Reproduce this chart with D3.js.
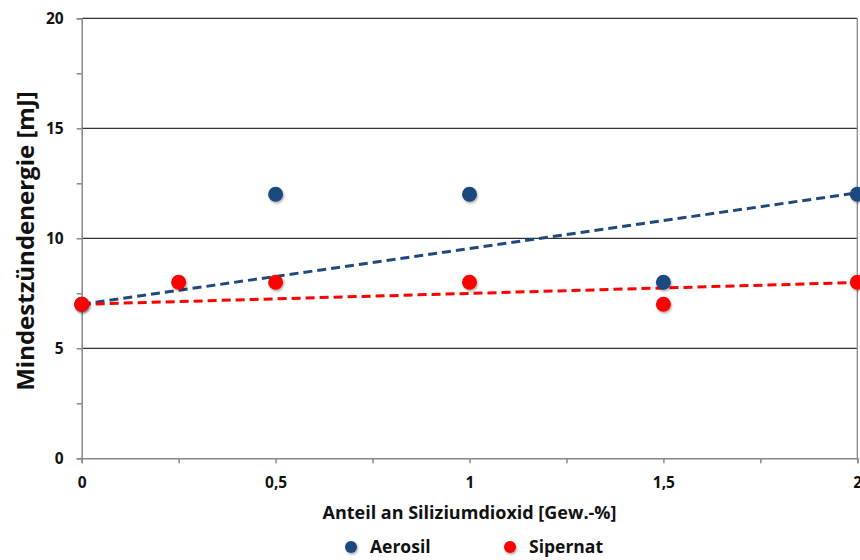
<!DOCTYPE html>
<html><head><meta charset="utf-8">
<script src="https://cdn.jsdelivr.net/npm/d3@7"></script>
<style>body{margin:0;background:#fff;}text{font-family:"Open Sans",sans-serif;font-weight:bold;}</style>
</head><body>
<svg id="c" width="860" height="560"></svg>
<script>
const aerosilX = [0, 0.5, 1, 1.5, 2];
const aerosilY = [7, 12, 12, 8, 12];
const sipernatX = [0, 0.25, 0.5, 1, 1.5, 2];
const sipernatY = [7, 8, 8, 8, 7, 8];
const trendX = [0, 2];
const aerosilTrend = [7, 12.07];
const sipernatTrend = [7, 7.99];
const yTicks = [0, 5, 10, 15, 20];
const yMinor = [2.5, 7.5, 12.5, 17.5];
const xTicks = [0, 0.5, 1, 1.5, 2];
const xMinor = [0.25, 0.75, 1.25, 1.75];
const seriesNames = ["Aerosil", "Sipernat"];
const colors = ["#1F497D", "#FF0000"];

const svg = d3.select("#c");
const L = 81.7, R = 857.3, T = 18.3, B = 458.3;
const x = d3.scaleLinear().domain([0, 2]).range([L, R]);
const y = d3.scaleLinear().domain([0, 20]).range([B, T]);
const fmt = d => String(d).replace(".", ",");

// gridlines
svg.append("g").selectAll("line").data(yTicks.filter(d => d > 0)).join("line")
  .attr("x1", L).attr("x2", R).attr("y1", d => y(d)).attr("y2", d => y(d))
  .attr("stroke", "#333").attr("stroke-width", 1.3);
// right border
svg.append("line").attr("x1", R).attr("x2", R).attr("y1", T).attr("y2", B)
  .attr("stroke", "#888").attr("stroke-width", 1.3);

// y axis
svg.append("g").attr("transform", `translate(${L},0)`)
  .call(d3.axisLeft(y).tickValues(yTicks).tickSize(5).tickPadding(13).tickFormat(fmt));
svg.append("g").attr("transform", `translate(${L},0)`)
  .call(d3.axisLeft(y).tickValues(yMinor).tickSize(5).tickFormat(""))
  .call(g => g.select(".domain").remove());
// x axis
svg.append("g").attr("transform", `translate(0,${B})`)
  .call(d3.axisBottom(x).tickValues(xTicks).tickSize(5).tickPadding(14).tickFormat(fmt));
svg.append("g").attr("transform", `translate(0,${B})`)
  .call(d3.axisBottom(x).tickValues(xMinor).tickSize(5).tickFormat(""))
  .call(g => g.select(".domain").remove());
svg.selectAll(".domain").attr("stroke", "#888").attr("stroke-width", 1.5);
svg.selectAll(".tick line").attr("stroke", "#888").attr("stroke-width", 1.5);
svg.selectAll(".tick text").attr("font-size", 15.5).attr("font-family", "'Open Sans', sans-serif")
  .attr("font-weight", "bold").attr("fill", "#111");

// shadow filter
const defs = svg.append("defs");
const f = defs.append("filter").attr("id", "sh").attr("x", "-50%").attr("y", "-50%").attr("width", "200%").attr("height", "200%");
f.append("feDropShadow").attr("dx", 1).attr("dy", 1.5).attr("stdDeviation", 1.2).attr("flood-color", "#000").attr("flood-opacity", 0.35);

// trend lines
const line = d3.line().x(d => x(d[0])).y(d => y(d[1]));
[aerosilTrend, sipernatTrend].forEach((t, i) => {
  svg.append("path").datum(trendX.map((v, j) => [v, t[j]]))
    .attr("d", line).attr("fill", "none").attr("stroke", colors[i])
    .attr("stroke-width", 3).attr("stroke-dasharray", "9,5");
});

// points
const series = [[aerosilX, aerosilY], [sipernatX, sipernatY]];
series.forEach((s, i) => {
  svg.append("g").selectAll("circle").data(s[0].map((v, j) => [v, s[1][j]])).join("circle")
    .attr("cx", d => x(d[0])).attr("cy", d => y(d[1])).attr("r", 7.5)
    .attr("fill", colors[i]).attr("filter", "url(#sh)");
});

// titles
svg.append("text").attr("transform", `translate(34,241) rotate(-90)`)
  .attr("text-anchor", "middle").attr("font-size", 24).attr("fill", "#111")
  .text("Mindestzündenergie [mJ]");
svg.append("text").attr("x", 469.5).attr("y", 519).attr("text-anchor", "middle")
  .attr("font-size", 18).attr("fill", "#111").text("Anteil an Siliziumdioxid [Gew.-%]");

// legend
const legX = [351, 510];
seriesNames.forEach((n, i) => {
  svg.append("circle").attr("cx", legX[i]).attr("cy", 547).attr("r", 6)
    .attr("fill", colors[i]).attr("filter", "url(#sh)");
  svg.append("text").attr("x", legX[i] + 19).attr("y", 553).attr("font-size", 17.5)
    .attr("fill", "#111").text(n);
});
</script>
</body></html>
